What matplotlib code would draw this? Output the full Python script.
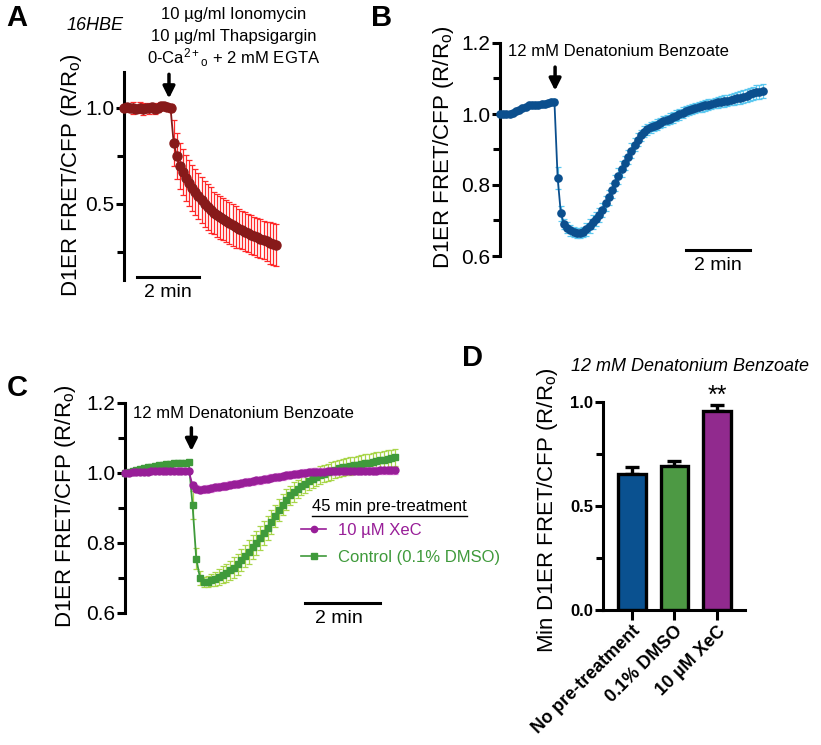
import numpy as np
import matplotlib
matplotlib.use("Agg")
import matplotlib.pyplot as plt
from matplotlib.lines import Line2D
from matplotlib.ticker import MultipleLocator

plt.rcParams['font.family'] = ['Liberation Sans', 'DejaVu Sans']
plt.rcParams['mathtext.fontset'] = 'custom'
plt.rcParams['mathtext.rm'] = 'Liberation Sans'
plt.rcParams['mathtext.it'] = 'Liberation Sans:italic'
plt.rcParams['mathtext.bf'] = 'Liberation Sans:bold'

# ---- data (time step in minutes) ----
A_step = 0.1
A_val = [1.0, 1.003, 0.998, 1.0, 0.997, 1.002, 0.996, 1.0, 0.998, 1.003, 0.997, 1.001,
         1.012, 1.008, 1.003, 1.0,
         0.82, 0.75, 0.70, 0.665, 0.635, 0.61, 0.585, 0.56, 0.54, 0.52, 0.50, 0.485,
         0.47, 0.455, 0.44, 0.43, 0.42, 0.41, 0.40, 0.39, 0.38, 0.372, 0.364, 0.356,
         0.348, 0.34, 0.333, 0.326, 0.32, 0.313, 0.305, 0.298, 0.29, 0.285]
A_err = [0.01, 0.02, 0.02, 0.03, 0.02, 0.03, 0.03, 0.02, 0.03, 0.02, 0.03, 0.02,
         0.02, 0.02, 0.02, 0.02,
         0.12, 0.12, 0.12, 0.12, 0.12, 0.12, 0.12, 0.12, 0.12, 0.12, 0.12, 0.12,
         0.12, 0.11, 0.11, 0.11, 0.11, 0.11, 0.11, 0.11, 0.11, 0.10, 0.10, 0.10,
         0.10, 0.10, 0.10, 0.10, 0.10, 0.10, 0.10, 0.11, 0.11, 0.11]

B_step = 0.1
B_val = [1.0, 1.0, 0.999, 1.001, 1.004, 1.008, 1.012, 1.016, 1.02, 1.024, 1.026, 1.026,
         1.025, 1.027, 1.029, 1.031, 1.033, 1.034,
         0.82, 0.72, 0.69, 0.68, 0.672, 0.668, 0.665, 0.665, 0.668, 0.675, 0.685, 0.695,
         0.705, 0.715, 0.73, 0.748, 0.765, 0.785, 0.805, 0.825, 0.845, 0.862, 0.88, 0.897,
         0.913, 0.928, 0.94, 0.95, 0.957, 0.962, 0.966, 0.97,
         0.975, 0.979, 0.983, 0.987, 0.991, 0.995, 0.999, 1.004, 1.008, 1.011, 1.014,
         1.017, 1.02, 1.022, 1.024, 1.026, 1.028, 1.031, 1.033, 1.035, 1.037, 1.038,
         1.04, 1.042, 1.044, 1.046, 1.049, 1.052, 1.055, 1.058, 1.061, 1.063, 1.065]
B_err = [0.003, 0.004, 0.004, 0.004, 0.005, 0.005, 0.005, 0.006, 0.006, 0.006, 0.006, 0.006,
         0.006, 0.006, 0.006, 0.006, 0.007, 0.007,
         0.03, 0.02, 0.015, 0.015, 0.015, 0.015, 0.015, 0.015, 0.015, 0.018, 0.02, 0.02,
         0.02, 0.02, 0.02, 0.022, 0.022, 0.022, 0.022, 0.022, 0.022, 0.02, 0.02, 0.02,
         0.018, 0.018, 0.016, 0.015, 0.015, 0.015, 0.015, 0.015,
         0.015, 0.015, 0.015, 0.015, 0.015, 0.015, 0.015, 0.015, 0.015, 0.015, 0.015,
         0.015, 0.015, 0.015, 0.015, 0.015, 0.015, 0.015, 0.015, 0.016, 0.016, 0.016,
         0.016, 0.017, 0.017, 0.018, 0.018, 0.018, 0.019, 0.019, 0.02, 0.02, 0.02]

C_step = 0.1
C_dmso = [1.0, 1.002, 1.005, 1.008, 1.011, 1.014, 1.016, 1.018, 1.02, 1.022, 1.024, 1.026,
          1.027, 1.028, 1.029, 1.03, 1.03, 1.031,
          0.91, 0.755, 0.70, 0.688, 0.69, 0.694, 0.698, 0.703, 0.709, 0.715, 0.722, 0.73,
          0.74, 0.751, 0.763, 0.775, 0.788, 0.801, 0.815, 0.829, 0.843, 0.86, 0.877, 0.894,
          0.91, 0.924, 0.936, 0.946, 0.955, 0.962, 0.969, 0.976, 0.983, 0.989, 0.994, 0.998,
          1.002, 1.006, 1.01, 1.013, 1.016, 1.018, 1.02, 1.022, 1.024, 1.026, 1.028, 1.03,
          1.032, 1.034, 1.036, 1.038, 1.04, 1.042, 1.045]
C_dmso_err = [0.002, 0.003, 0.003, 0.004, 0.004, 0.004, 0.005, 0.005, 0.005, 0.005, 0.005,
              0.005, 0.005, 0.005, 0.005, 0.005, 0.005, 0.005,
              0.04, 0.03, 0.02, 0.015, 0.015, 0.018, 0.02, 0.022, 0.024, 0.026, 0.028, 0.03,
              0.03, 0.032, 0.032, 0.034, 0.034, 0.034, 0.034, 0.034, 0.034, 0.034, 0.032,
              0.032, 0.03, 0.03, 0.028, 0.028, 0.026, 0.026, 0.025, 0.025, 0.025, 0.025,
              0.025, 0.025, 0.025, 0.025, 0.025, 0.025, 0.025, 0.025, 0.025, 0.025, 0.025,
              0.025, 0.025, 0.025, 0.025, 0.025, 0.025, 0.025, 0.025, 0.025, 0.025]
C_xec = [1.0, 1.001, 1.002, 1.003, 1.003, 1.004, 1.004, 1.005, 1.005, 1.005, 1.005, 1.005,
         1.005, 1.005, 1.005, 1.005, 1.005, 1.005,
         0.965, 0.955, 0.952, 0.953, 0.955,
         0.957, 0.959, 0.961, 0.962, 0.964, 0.966, 0.968, 0.970, 0.971, 0.973, 0.975, 0.977,
         0.979, 0.980, 0.982, 0.984, 0.986, 0.988, 0.989, 0.991, 0.993, 0.995, 0.997, 0.998,
         1.0, 1.001, 1.002, 1.003, 1.003, 1.004, 1.004, 1.005, 1.005, 1.005, 1.006, 1.006,
         1.006, 1.006, 1.007, 1.007, 1.007, 1.007, 1.007, 1.007, 1.007, 1.008, 1.008, 1.008,
         1.008, 1.008]
C_xec_err = [0.002] * 18 + [0.01] * 55

D_labels = ["No pre-treatment", "0.1% DMSO", "10 µM XeC"]
D_means = [0.655, 0.69, 0.955]
D_sem = [0.033, 0.027, 0.03]

# ---- colours ----
red_dark, red_err = "#871a1a", "#ff2a2a"
blue, blue_err = "#0b4f8e", "#5cc8f0"
green, green_err = "#3f9a3b", "#a9d64a"
mag, mag_err = "#981e98", "#e58ae0"
bar_colors = ["#0a5190", "#4d9944", "#912a8e"]

W, H = 821, 745
fig = plt.figure(figsize=(W / 100, H / 100), dpi=100)


def rect(x0, y0, x1, y1):
    return [x0 / W, 1 - y1 / H, (x1 - x0) / W, (y1 - y0) / H]


def fxy(x, y):
    return x / W, 1 - y / H


def style_axis(ax, major, minor):
    for s in ["top", "right", "bottom"]:
        ax.spines[s].set_visible(False)
    ax.spines["left"].set_linewidth(2.2)
    ax.yaxis.set_major_locator(MultipleLocator(major))
    ax.yaxis.set_minor_locator(MultipleLocator(minor))
    ax.tick_params(axis="y", which="major", length=6, width=2.2, pad=1, labelsize=15)
    ax.tick_params(axis="y", which="minor", length=5, width=2.2)
    ax.set_xticks([])
    ax.patch.set_alpha(0)


def trace(ax, step, vals, errs, col, ecol, marker, ms, cap):
    t = np.arange(len(vals)) * step
    ax.errorbar(t, vals, yerr=errs, fmt="none", ecolor=ecol, elinewidth=0.9,
                capsize=cap, capthick=0.9, zorder=2, clip_on=False)
    ax.plot(t, vals, "-", color=col, lw=1.3, marker=marker, ms=ms, mec=col,
            mfc=col, zorder=3, clip_on=False)


arrow_kw = dict(arrowstyle="-|>,head_width=0.35,head_length=0.7", color="black", lw=2.5)

# ---- Panel A ----
axA = fig.add_axes(rect(124, 72, 285, 280))
style_axis(axA, 0.5, 0.25)
axA.set_ylim(0.104, 1.1875)
axA.set_xlim(0, 5.19)
trace(axA, A_step, A_val, A_err, red_dark, red_err, "o", 6.5, 2.5)
axA.annotate("", xy=(1.45, 1.035), xytext=(1.45, 1.19), arrowprops=arrow_kw,
             annotation_clip=False)
axA.plot([0.42, 2.42], [0.12, 0.12], color="black", lw=2.2, clip_on=False)
axA.text(1.42, 0.04, "2 min", ha="center", va="center", fontsize=14)
fig.text(*fxy(72, 175), "D1ER FRET/CFP (R/R$_\\mathrm{o}$)", rotation=90,
         ha="center", va="center", fontsize=16)
fig.text(*fxy(234, 15), "10 µg/ml Ionomycin", ha="center", va="center", fontsize=12)
fig.text(*fxy(234, 37), "10 µg/ml Thapsigargin", ha="center", va="center", fontsize=12)
fig.text(*fxy(234, 58), "0-Ca$^{2+}$$_\\mathrm{o}$ + 2 mM EGTA", ha="center",
         va="center", fontsize=12)
fig.text(*fxy(95, 25), "16HBE", ha="center", va="center", fontsize=13, style="italic")

# ---- Panel B ----
axB = fig.add_axes(rect(500, 43, 769, 256))
style_axis(axB, 0.2, 0.1)
axB.set_ylim(0.6, 1.2)
axB.set_xlim(0, 8.4)
trace(axB, B_step, B_val, B_err, blue, blue_err, "o", 5.2, 2.0)
axB.annotate("", xy=(1.72, 1.058), xytext=(1.72, 1.14), arrowprops=arrow_kw,
             annotation_clip=False)
axB.text(0.25, 1.176, "12 mM Denatonium Benzoate", ha="left", va="center", fontsize=12)
axB.plot([5.81, 7.81], [0.617, 0.617], color="black", lw=2.2, clip_on=False)
axB.text(6.81, 0.572, "2 min", ha="center", va="center", fontsize=14)
fig.text(*fxy(443, 147), "D1ER FRET/CFP (R/R$_\\mathrm{o}$)", rotation=90,
         ha="center", va="center", fontsize=16)

# ---- Panel C ----
axC = fig.add_axes(rect(125, 403, 410, 613))
style_axis(axC, 0.2, 0.1)
axC.set_ylim(0.6, 1.2)
axC.set_xlim(0, 7.6)
trace(axC, C_step, C_dmso, C_dmso_err, green, green_err, "s", 5.0, 2.0)
trace(axC, C_step, C_xec, C_xec_err, mag, mag_err, "o", 5.0, 2.0)
axC.annotate("", xy=(1.77, 1.055), xytext=(1.77, 1.137), arrowprops=arrow_kw,
             annotation_clip=False)
axC.text(0.2, 1.17, "12 mM Denatonium Benzoate", ha="left", va="center", fontsize=12)
axC.plot([4.8, 6.8], [0.629, 0.629], color="black", lw=2.2, clip_on=False)
axC.text(5.7, 0.584, "2 min", ha="center", va="center", fontsize=14)
fig.text(*fxy(65, 506), "D1ER FRET/CFP (R/R$_\\mathrm{o}$)", rotation=90,
         ha="center", va="center", fontsize=16)

handles = [Line2D([], [], color=mag, marker="o", ms=4.5, lw=1.2),
           Line2D([], [], color=green, marker="s", ms=4.5, lw=1.2)]
axC.legend(handles, ["10 µM XeC", "Control (0.1% DMSO)"], loc="upper left",
           bbox_to_anchor=fxy(301, 523), bbox_transform=fig.transFigure,
           frameon=False, fontsize=12, handlelength=1.5, handletextpad=0.7,
           labelspacing=0.72, borderpad=0, borderaxespad=0,
           labelcolor=[mag, green])
ttl = fig.text(*fxy(312, 507), "45 min pre-treatment", ha="left", va="center",
               fontsize=12)

# ---- Panel D ----
axD = fig.add_axes(rect(603, 402, 745, 610))
for s in ["top", "right"]:
    axD.spines[s].set_visible(False)
axD.spines["left"].set_linewidth(2.2)
axD.spines["bottom"].set_linewidth(2.2)
xpos = np.arange(len(D_labels))
axD.bar(xpos, D_means, width=0.64, color=bar_colors, edgecolor="black",
        linewidth=2.4, zorder=2)
axD.errorbar(xpos, D_means, yerr=[[0] * len(D_sem), D_sem], fmt="none",
             ecolor="black", elinewidth=2.4, capsize=5, capthick=2.4, zorder=1)
axD.set_xlim(-0.68, 2.66)
axD.set_ylim(0, 1.0)
axD.yaxis.set_major_locator(MultipleLocator(0.5))
axD.yaxis.set_minor_locator(MultipleLocator(0.25))
axD.tick_params(axis="y", which="major", length=6, width=2.2, pad=1, labelsize=12)
axD.tick_params(axis="y", which="minor", length=5, width=2.2)
axD.tick_params(axis="x", length=7, width=2.2, pad=2, labelsize=13)
for lab in axD.get_yticklabels():
    lab.set_fontweight("bold")
axD.set_xticks(xpos)
axD.set_xticklabels(D_labels, rotation=45, ha="right", rotation_mode="anchor",
                    fontweight="bold")
axD.text(2, 0.972, "**", ha="center", va="bottom", fontsize=18)
fig.text(*fxy(690, 366), "12 mM Denatonium Benzoate", ha="center", va="center",
         fontsize=13, style="italic")
fig.text(*fxy(547, 510), "Min D1ER FRET/CFP (R/R$_\\mathrm{o}$)", rotation=90,
         ha="center", va="center", fontsize=16)

# ---- panel letters ----
for letter, (px, py) in zip("ABCD", [(17, 18), (382, 18), (17, 388), (472, 358)]):
    fig.text(*fxy(px, py), letter, ha="center", va="center", fontsize=21,
             fontweight="bold")

# underline for the legend title
fig.canvas.draw()
bb = ttl.get_window_extent(fig.canvas.get_renderer())
uy = (bb.y0 - 1) / fig.bbox.height
fig.add_artist(Line2D([bb.x0 / fig.bbox.width, bb.x1 / fig.bbox.width], [uy, uy],
                      transform=fig.transFigure, color="black", lw=1.0))

fig.savefig("out.png", dpi=100)
